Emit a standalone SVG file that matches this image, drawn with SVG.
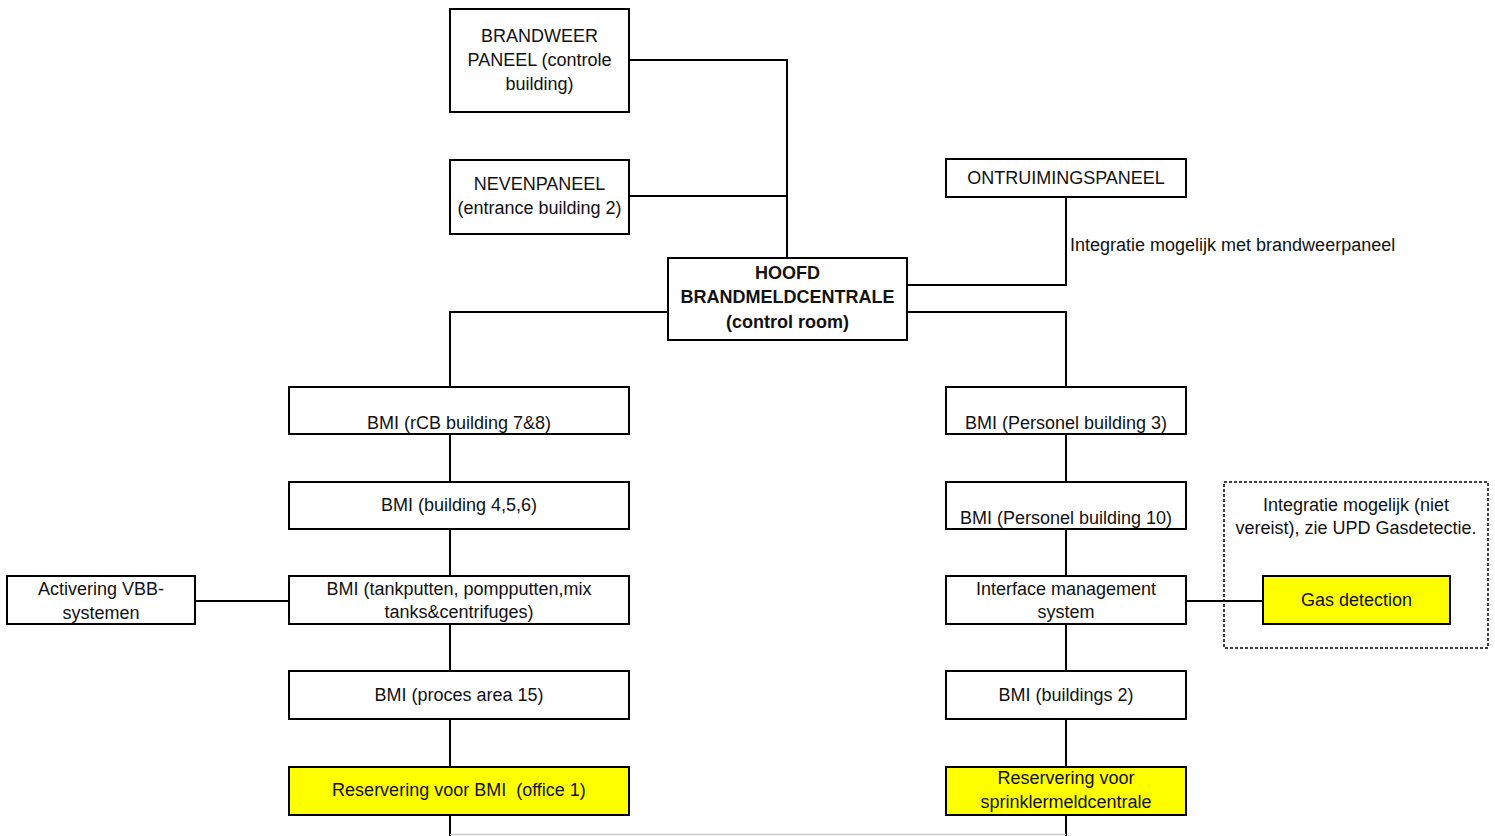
<svg xmlns="http://www.w3.org/2000/svg" width="1495" height="836" viewBox="0 0 1495 836">
<style>
.b{fill:#fff;stroke:#000;stroke-width:2}
.y{fill:#ffff00;stroke:#000;stroke-width:2}
.t{font-family:"Liberation Sans",Arial,sans-serif;font-size:18px;fill:#111;text-anchor:middle}
.tb{font-weight:bold}
.c{fill:none;stroke:#000;stroke-width:2}
</style>
<rect width="1495" height="836" fill="#fff"/>
<g id="connectors">
<polyline class="c" points="629,60 787,60 787,258"/>
<line class="c" x1="629" y1="196" x2="787" y2="196"/>
<polyline class="c" points="1066,197 1066,285 907,285"/>
<polyline class="c" points="668,312 450,312 450,387"/>
<polyline class="c" points="907,312 1066,312 1066,387"/>
<line class="c" x1="450" y1="434" x2="450" y2="482"/>
<line class="c" x1="450" y1="529" x2="450" y2="576"/>
<line class="c" x1="450" y1="624" x2="450" y2="671"/>
<line class="c" x1="450" y1="719" x2="450" y2="767"/>
<line class="c" x1="450" y1="815" x2="450" y2="836"/>
<line class="c" x1="1066" y1="434" x2="1066" y2="482"/>
<line class="c" x1="1066" y1="529" x2="1066" y2="576"/>
<line class="c" x1="1066" y1="624" x2="1066" y2="671"/>
<line class="c" x1="1066" y1="719" x2="1066" y2="767"/>
<line class="c" x1="1066" y1="815" x2="1066" y2="836"/>
<line x1="450" y1="834.5" x2="1066" y2="834.5" stroke="#ccc" stroke-width="1.5"/>
<line class="c" x1="195" y1="601" x2="289" y2="601"/>
<line class="c" x1="1186" y1="601" x2="1263" y2="601"/>
<text class="t" x="1070" y="251" style="text-anchor:start">Integratie mogelijk met brandweerpaneel</text>
</g>
<g id="brandweer"><rect class="b" x="450" y="9" width="179" height="103"/>
<text class="t" x="539.5" y="42">BRANDWEER</text><text class="t" x="539.5" y="66">PANEEL (controle</text><text class="t" x="539.5" y="90">building)</text></g>
<g id="neven"><rect class="b" x="450" y="160" width="179" height="74"/>
<text class="t" x="539.5" y="190">NEVENPANEEL</text><text class="t" x="539.5" y="214">(entrance building 2)</text></g>
<g id="hoofd"><rect class="b" x="668" y="258" width="239" height="82"/>
<text class="t tb" x="787.5" y="279">HOOFD</text><text class="t tb" x="787.5" y="303">BRANDMELDCENTRALE</text><text class="t tb" x="787.5" y="328">(control room)</text></g>
<g id="ontruiming"><rect class="b" x="946" y="159" width="240" height="38"/>
<text class="t" x="1066" y="184">ONTRUIMINGSPANEEL</text></g>
<g id="bmi-rcb"><rect class="b" x="289" y="387" width="340" height="47"/>
<text class="t" x="459" y="429">BMI (rCB building 7&amp;8)</text></g>
<g id="bmi-456"><rect class="b" x="289" y="482" width="340" height="47"/>
<text class="t" x="459" y="511">BMI (building 4,5,6)</text></g>
<g id="bmi-tank"><rect class="b" x="289" y="576" width="340" height="48"/>
<text class="t" x="459" y="595">BMI (tankputten, pompputten,mix</text><text class="t" x="459" y="618">tanks&amp;centrifuges)</text></g>
<g id="bmi-proces"><rect class="b" x="289" y="671" width="340" height="48"/>
<text class="t" x="459" y="701">BMI (proces area 15)</text></g>
<g id="res-bmi"><rect class="y" x="289" y="767" width="340" height="48"/>
<text class="t" x="459" y="796">Reservering voor BMI &#160;(office 1)</text></g>
<g id="activering"><rect class="b" x="7" y="576" width="188" height="48"/>
<text class="t" x="101" y="595">Activering VBB-</text><text class="t" x="101" y="619">systemen</text></g>
<g id="bmi-p3"><rect class="b" x="946" y="387" width="240" height="47"/>
<text class="t" x="1066" y="429">BMI (Personel building 3)</text></g>
<g id="bmi-p10"><rect class="b" x="946" y="482" width="240" height="47"/>
<text class="t" x="1066" y="524">BMI (Personel building 10)</text></g>
<g id="interface"><rect class="b" x="946" y="576" width="240" height="48"/>
<text class="t" x="1066" y="595">Interface management</text><text class="t" x="1066" y="618">system</text></g>
<g id="bmi-b2"><rect class="b" x="946" y="671" width="240" height="48"/>
<text class="t" x="1066" y="701">BMI (buildings 2)</text></g>
<g id="res-sprinkler"><rect class="y" x="946" y="767" width="240" height="48"/>
<text class="t" x="1066" y="784">Reservering voor</text><text class="t" x="1066" y="808">sprinklermeldcentrale</text></g>
<g id="gas-group"><rect x="1224" y="482" width="264" height="166" fill="none" stroke="#000" stroke-width="1.5" stroke-dasharray="3,2"/>
<text class="t" x="1356" y="511">Integratie mogelijk (niet</text><text class="t" x="1356" y="534">vereist), zie UPD Gasdetectie.</text></g>
<g id="gas"><rect class="y" x="1263" y="576" width="187" height="48"/>
<text class="t" x="1356.5" y="606">Gas detection</text></g>
</svg>
